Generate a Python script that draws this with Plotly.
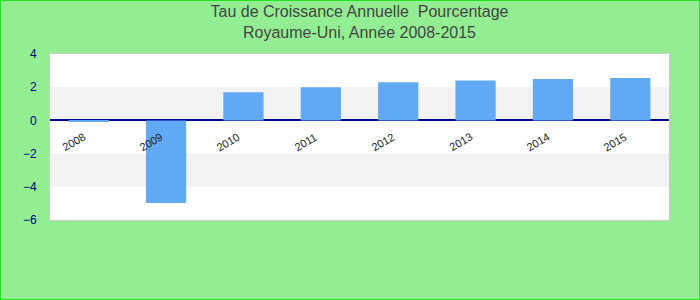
import plotly.graph_objects as go

years = ["2008", "2009", "2010", "2011", "2012", "2013", "2014", "2015"]
growth = [-0.1, -4.97, 1.7, 2.0, 2.3, 2.4, 2.5, 2.55]
y_ticks = [-6, -4, -2, 0, 2, 4]

W, H = 700, 300
ML, MR, MT, MB = 50, 31, 54, 80
pw, ph = W - ML - MR, H - MT - MB

fig = go.Figure()
fig.add_trace(go.Bar(x=years, y=growth, marker=dict(color="#62A9F5", line=dict(width=0)),
                     width=0.52, hoverinfo="x+y"))

shapes = []
# alternating horizontal bands
for i in range(len(y_ticks) - 1):
    if i % 2 == 1:
        shapes.append(dict(type="rect", xref="paper", yref="y", x0=0, x1=1,
                           y0=y_ticks[i], y1=y_ticks[i + 1], fillcolor="#F2F2F2",
                           line=dict(width=0), layer="below"))
# outer border of the whole chart
shapes.append(dict(type="rect", xref="paper", yref="paper",
                   x0=-ML / pw, x1=1 + MR / pw, y0=-MB / ph, y1=1 + MT / ph,
                   line=dict(color="#1EE61E", width=2), fillcolor="rgba(0,0,0,0)"))

annotations = [dict(x=i, y=0, xref="x", yref="y", text=yr, showarrow=False,
                    textangle=-30, xanchor="center", yanchor="middle",
                    xshift=-15, yshift=-22,
                    font=dict(family="Arial, Liberation Sans", size=11, color="#222222"))
               for i, yr in enumerate(years)]

fig.update_layout(
    width=W, height=H,
    margin=dict(l=ML, r=MR, t=MT, b=MB),
    paper_bgcolor="#93EE93",
    plot_bgcolor="white",
    showlegend=False,
    title=dict(text="Tau de Croissance Annuelle  Pourcentage<br>Royaume-Uni, Année 2008-2015",
               x=0.5, xanchor="center", xref="paper", y=0.942, yanchor="top", yref="container",
               font=dict(family="Arial, Liberation Sans", size=16, color="#444444")),
    shapes=shapes,
    annotations=annotations,
    xaxis=dict(type="category", range=[-0.5, len(years) - 0.5], autorange=False,
               showticklabels=False, showgrid=False, ticks="",
               showline=True, linecolor="#CCCCCC", linewidth=1, mirror=True, zeroline=False),
    yaxis=dict(range=[-6, 4], tickvals=y_ticks, showgrid=False,
               zeroline=True, zerolinecolor="#00008B", zerolinewidth=1.5,
               showline=True, linecolor="#CCCCCC", linewidth=1, mirror=True,
               ticks="outside", ticklen=10, tickcolor="rgba(0,0,0,0)",
               tickfont=dict(family="Arial, Liberation Sans", size=12, color="#000080")),
)

fig.write_html("out.html")
